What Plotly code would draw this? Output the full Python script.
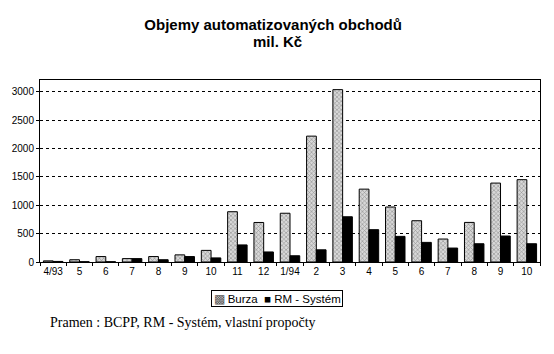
import plotly.graph_objects as go

months = ["4/93", "5", "6", "7", "8", "9", "10", "11", "12", "1/94",
          "2", "3", "4", "5", "6", "7", "8", "9", "10"]
burza = [20, 40, 96, 60, 96, 126, 205, 887, 697, 860,
         2220, 3040, 1285, 970, 728, 405, 698, 1392, 1452]
rm_system = [10, 5, 5, 60, 40, 96, 72, 301, 177, 110,
             215, 798, 570, 452, 346, 246, 322, 458, 322]
y_ticks = [0, 500, 1000, 1500, 2000, 2500, 3000]
series_names = ["Burza", "RM - Systém"]

x_idx = list(range(len(months)))

fig = go.Figure()
fig.add_trace(go.Bar(
    x=x_idx, y=burza, name=series_names[0],
    marker=dict(color="#d8d8d8", line=dict(color="black", width=1),
                pattern=dict(shape="x", size=3, solidity=0.35,
                             fgcolor="#444", bgcolor="#d8d8d8")),
))
fig.add_trace(go.Bar(
    x=x_idx, y=rm_system, name=series_names[1],
    marker=dict(color="black", line=dict(color="black", width=1)),
))

fig.update_layout(
    width=554, height=354,
    margin=dict(l=40, r=14, t=80, b=92),
    paper_bgcolor="white", plot_bgcolor="white",
    barmode="group", bargap=0.26, bargroupgap=0,
    font=dict(family="Liberation Sans, Arial", size=10, color="black"),
    title=dict(text="<b>Objemy automatizovaných obchodů</b>",
               x=0.493, xanchor="center", y=0.929, yanchor="middle",
               font=dict(family="Liberation Sans, Arial", size=15, color="black")),
    showlegend=False,
)
fig.add_annotation(
    text="<b>mil. Kč</b>", xref="paper", yref="paper", x=0.474, y=1.209,
    xanchor="center", yanchor="middle", showarrow=False,
    font=dict(family="Liberation Sans, Arial", size=15, color="black"),
)
fig.update_xaxes(
    tickmode="array", tickvals=x_idx, ticktext=months,
    range=[-0.5, len(months) - 0.5],
    showline=True, linecolor="black", linewidth=1, mirror=True,
    showgrid=False, ticks="", tickfont=dict(size=10),
    minor=dict(tickmode="linear", tick0=0.5, dtick=1, ticks="outside",
               ticklen=3, tickcolor="black", showgrid=False),
)
fig.update_yaxes(
    range=[0, 3210], tickvals=y_ticks,
    showline=True, linecolor="black", linewidth=1, mirror=True,
    showgrid=True, gridcolor="black", griddash="dot", gridwidth=1.3,
    ticks="outside", ticklen=3, tickcolor="black", tickfont=dict(size=10),
    zeroline=False,
)
# legend drawn as a bordered text box
fig.add_annotation(
    text=("<span style='color:#555'>▩</span> " + series_names[0] +
          "  ■ " + series_names[1]),
    xref="paper", yref="paper", x=0.474, y=-0.2, xanchor="center", yanchor="middle",
    showarrow=False, bordercolor="black", borderwidth=1, borderpad=1.5, bgcolor="white",
    font=dict(family="Liberation Sans, Arial", size=11.5, color="black"),
)
fig.add_annotation(
    text="Pramen : BCPP, RM - Systém, vlastní propočty",
    xref="paper", yref="paper", x=0.016, y=-0.335, xanchor="left", yanchor="middle",
    showarrow=False,
    font=dict(family="Liberation Serif, Times New Roman", size=14, color="black"),
)
fig.write_html("out.html")
